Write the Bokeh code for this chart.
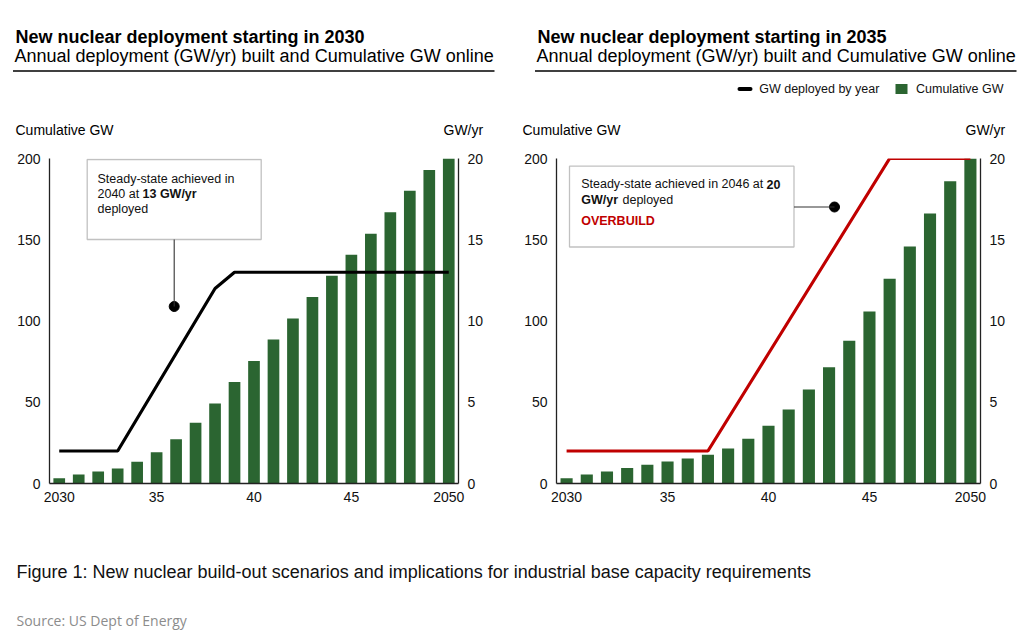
from bokeh.plotting import figure
from bokeh.models import (Range1d, LinearAxis, FixedTicker, Label, BoxAnnotation, Arrow)
from bokeh.layouts import column, row
from bokeh.embed import file_html
from bokeh.resources import INLINE

# ---------------- data ----------------
years = list(range(2030, 2051))
cum_2030 = [3.3, 5.5, 7.4, 9.2, 13.4, 19.3, 27.3, 37.4, 49.3, 62.5, 75.4,
            88.6, 101.5, 114.7, 127.9, 140.8, 153.7, 166.9, 180.1, 193.0, 200.0]
rate_2030 = [2, 2, 2, 2, 4, 6, 8, 10, 12, 13, 13,
             13, 13, 13, 13, 13, 13, 13, 13, 13, 13]
cum_2035 = [3.3, 5.5, 7.4, 9.5, 11.5, 13.6, 15.4, 17.7, 21.6, 27.5, 35.6,
            45.6, 57.8, 71.5, 87.8, 105.9, 126.0, 145.9, 166.1, 186.0, 200.0]
rate_2035 = [2, 2, 2, 2, 2, 2, 2, 2, 4, 6, 8,
             10, 12, 14, 16, 18, 20, 20, 20, 20, 20]
left_ticks = [0, 50, 100, 150, 200]
right_ticks = [0, 5, 10, 15, 20]
x_ticks = [2030, 2035, 2040, 2045, 2050]
x_tick_labels = ["2030", "35", "40", "45", "2050"]

titles = ["New nuclear deployment starting in 2030", "New nuclear deployment starting in 2035"]
subtitle = "Annual deployment (GW/yr) built and Cumulative GW online"
legend_labels = ["GW deployed by year", "Cumulative GW"]
caption = "Figure 1: New nuclear build-out scenarios and implications for industrial base capacity requirements"
source = "Source:  US Dept of Energy"

GREEN = "#2b6531"
RED = "#c00000"
FONT = "Liberation Sans"

# ---------------- geometry (page pixels) ----------------
HEAD_H = 150
FRAME_TOP, FRAME_BOTTOM = 158, 483
FRAME_H = FRAME_BOTTOM - FRAME_TOP
CHART_BOTTOM_BORDER = 37
X0, X1 = 2029.5, 2050.5
PAGE_W = 1024
FOOT_TOP = FRAME_BOTTOM + CHART_BOTTOM_BORDER
FOOT_H = 640 - FOOT_TOP


def add_label(p, x, y, text, size, bold=False, color="#000000", font=FONT, dy=None):
    # y is the wanted baseline in page pixels (dy converts to data units)
    yb = y - 0.33 * size
    p.add_layout(Label(x=x, y=dy(yb) if dy else yb, text=text, text_font=font,
                       text_font_size=f"{size}px",
                       text_font_style="bold" if bold else "normal",
                       text_color=color, text_baseline="alphabetic",
                       text_align="left"))


def add_seg(p, x0, y0, x1, y1, width, color="#000000", cap="butt"):
    p.add_layout(Arrow(end=None, x_start=x0, y_start=y0, x_end=x1, y_end=y1,
                       line_width=width, line_color=color, line_cap=cap))


def blank(width, top, height):
    # a canvas whose data coordinates are page pixels
    b = figure(frame_width=width, frame_height=height, x_range=Range1d(0, width),
               y_range=Range1d(top + height, top), min_border=0,
               x_axis_type=None, y_axis_type=None, output_backend="svg",
               toolbar_location=None, title=None)
    b.outline_line_color = None
    return b


# ---------------- header ----------------
head = blank(PAGE_W, 0, HEAD_H)
for i, hx in enumerate([14, 536]):
    add_label(head, hx + 1, 42, titles[i], 18, bold=True)
    add_label(head, hx, 61, subtitle, 18)
    add_seg(head, hx - 1.5, 70.5, hx + 480, 70.5, 1.6)
add_label(head, 15, 134.5, "Cumulative GW", 14)
add_label(head, 443, 134.5, "GW/yr", 14)
add_label(head, 522, 134.5, "Cumulative GW", 14)
add_label(head, 965, 134.5, "GW/yr", 14)
# legend
add_seg(head, 739, 88.5, 750, 88.5, 4, cap="round")
add_label(head, 758.7, 92.7, legend_labels[0], 12.5, color="#111111")
add_seg(head, 895, 88.5, 907, 88.5, 10, color=GREEN)
add_label(head, 915.5, 92.7, legend_labels[1], 12.5, color="#111111")


def make_chart(idx, cum, rate, line_color, border_left, frame_w, border_right, page_left):
    p = figure(frame_width=frame_w, frame_height=FRAME_H,
               x_range=Range1d(X0, X1), y_range=Range1d(0, 200),
               min_border_left=border_left, min_border_right=border_right,
               min_border_top=FRAME_TOP - HEAD_H, min_border_bottom=CHART_BOTTOM_BORDER,
               output_backend="svg", toolbar_location=None, title=None,
               x_axis_type=None, y_axis_type=None)
    p.outline_line_color = None
    p.extra_y_ranges = {"rate": Range1d(0, 20)}

    frame_left = page_left + border_left

    def dx(xp):
        return X0 + (xp - frame_left) / frame_w * (X1 - X0)

    def dy(yp):
        return (FRAME_BOTTOM - yp) / FRAME_H * 200

    xa = LinearAxis(ticker=FixedTicker(ticks=x_ticks))
    xa.major_label_overrides = {t: l for t, l in zip(x_ticks, x_tick_labels)}
    la = LinearAxis(ticker=FixedTicker(ticks=left_ticks))
    ra = LinearAxis(ticker=FixedTicker(ticks=right_ticks), y_range_name="rate")
    for ax in (xa, la, ra):
        ax.axis_line_color = "#222222"
        ax.axis_line_width = 1.3
        ax.major_tick_line_color = None
        ax.minor_tick_line_color = None
        ax.major_tick_in = 0
        ax.major_tick_out = 0
        ax.major_label_text_font = FONT
        ax.major_label_text_font_size = "14px"
        ax.major_label_text_color = "#111111"
    xa.major_label_standoff = 8
    la.major_label_standoff = 9
    ra.major_label_standoff = 9
    p.add_layout(xa, "below")
    p.add_layout(la, "left")
    p.add_layout(ra, "right")

    p.vbar(x=years, top=cum, width=0.6, fill_color=GREEN, line_color=None)
    p.line(x=years, y=rate, y_range_name="rate", line_color=line_color, line_width=3.2)

    def lab(xp, yp, text, bold=False, color="#111111"):
        add_label(p, dx(xp), yp, text, 12.5, bold=bold, color=color, dy=dy)

    def box(l, r, t, b):
        p.add_layout(BoxAnnotation(left=dx(l), right=dx(r), top=dy(t), bottom=dy(b),
                                   fill_color="white", fill_alpha=1.0,
                                   line_color="#333333", line_width=1.3))

    if idx == 0:
        box(86.7, 260.7, 159, 239)
        lab(97, 183, "Steady-state achieved in")
        lab(97, 198, "2040 at ")
        lab(142, 198, "13 GW/yr", bold=True)
        lab(97, 213, "deployed")
        add_seg(p, dx(173.7), dy(239), dx(173.7), dy(306), 1.1, color="#333333")
        p.scatter(x=[dx(173.7)], y=[dy(306)], size=10, color="black")
    else:
        box(569, 793.5, 165.7, 246.5)
        lab(580.7, 188, "Steady-state achieved in 2046 at ")
        lab(766, 188, "20", bold=True)
        lab(580.7, 203.5, "GW/yr", bold=True)
        lab(622, 203.5, "deployed")
        lab(580.7, 224.5, "OVERBUILD", bold=True, color=RED)
        add_seg(p, dx(793.5), dy(206.5), dx(834), dy(206.5), 1.1, color="#333333")
        p.scatter(x=[dx(834)], y=[dy(206.5)], size=10, color="black")
    return p


pL = make_chart(0, cum_2030, rate_2030, "#000000", 49, 409, 54, 0)
pR = make_chart(1, cum_2035, rate_2035, RED, 44, 424, 44, 512)

# ---------------- footer ----------------
foot = blank(PAGE_W, FOOT_TOP, FOOT_H)
add_label(foot, 16, 577, caption, 18, color="#111111")
add_label(foot, 16, 624.5, source, 14, color="#8c8c8c", font="Open Sans")

layout = column(head, row(pL, pR), foot)
open("out.html", "w").write(file_html(layout, INLINE))
